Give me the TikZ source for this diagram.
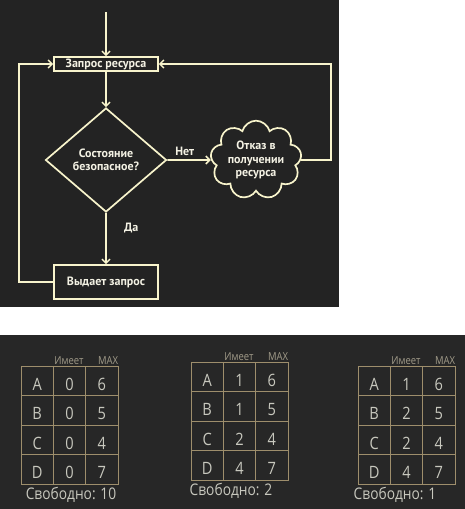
\documentclass[tikz,border=0pt]{standalone}
\usepackage{fontspec}
\setmainfont{PT Sans}
\newfontfamily\tabfont[FakeStretch=0.86]{Open Sans}
\usetikzlibrary{shapes.geometric,shapes.symbols,arrows.meta}

\definecolor{topbg}{HTML}{232323}
\definecolor{botbg}{HTML}{272727}
\definecolor{cream}{HTML}{F8F4CC}
\definecolor{flowtext}{HTML}{F4F2E4}
\definecolor{tan}{HTML}{9E8E6C}
\definecolor{celltext}{HTML}{C8C8BE}
\definecolor{headtext}{HTML}{A29C8A}

\tikzset{
    flow/.style = {cream, line width=1.7pt, -{Straight Barb[length=4pt,width=8pt,line width=1.5pt]}},
    procbox/.style = {draw=cream, line width=1.7pt, fill=topbg, text=flowtext, font=\bfseries\fontsize{12}{13}\selectfont, inner sep=0pt, minimum width=104pt},
    decision/.style = {diamond, draw=cream, line width=1.7pt, text=flowtext, font=\bfseries\fontsize{12}{13}\selectfont, align=center, inner sep=0pt, minimum width=121pt, minimum height=104pt},
    refusal/.style = {cloud, cloud puffs=9, aspect=1.3, draw=cream, line width=1.7pt, text=flowtext, font=\bfseries\fontsize{12}{13.5}\selectfont, align=center, inner sep=0pt, minimum width=91pt, minimum height=71pt},
    flowlabel/.style = {text=flowtext, font=\bfseries\fontsize{12}{13}\selectfont},
    cellgrid/.style = {tan, line width=0.9pt},
    cell/.style = {text=celltext, font=\tabfont\fontsize{17}{20}\selectfont, anchor=base, inner sep=0pt},
    head/.style = {text=headtext, font=\tabfont\fontsize{11}{13}\selectfont, anchor=base, inner sep=0pt},
    freetext/.style = {text=celltext, font=\tabfont\fontsize{16}{18}\selectfont, anchor=base, inner sep=0pt}
}

% one table of claims: name, top left corner, rows, x of free text, free text
\newcommand\claimtable[5]{%
    \begin{scope}[shift={#2}]
        \draw[cellgrid] (0,0) rectangle (97,118);
        \foreach \r in {1,2,3} \draw[cellgrid] (0,29.5*\r) -- (97,29.5*\r);
        \foreach \c in {1,2} \draw[cellgrid] (32.3*\c,0) -- (32.3*\c,118);
        \foreach \n/\h/\m [count=\r] in {#3} {
            \node[cell] (#1-\n) at (16.2,29.5*\r-5.5) {\n};
            \node[cell] (#1-\n-has) at (48.5,29.5*\r-5.5) {\h};
            \node[cell] (#1-\n-max) at (80.8,29.5*\r-5.5) {\m};
        }
        \node[head] (#1-hashead) at (48,-1.5) {Имеет};
        \node[head] (#1-maxhead) at (87,-1.5) {MAX};
        \node[freetext] (#1-free) at (#4,133) {#5};
    \end{scope}}

\begin{document}
\begin{tikzpicture}[x=1pt,y=-1pt]
    \useasboundingbox (0,0) rectangle (465,509);
    \fill[white] (0,0) rectangle (465,509);
    \fill[topbg] (0,0) rectangle (339,307);
    \fill[botbg] (0,335) rectangle (465,509);

    % flowchart
    \coordinate (entry) at (106,12);
    \node[procbox, minimum height=14pt] (req) at (106,64) {Запрос ресурса};
    \node[decision] (safe) at (106,160) {Состояние\\безопасное?};
    \node[refusal] (deny) at (256,160) {Отказ в\\получении\\ресурса};
    \node[procbox, minimum height=34pt] (give) at (106,282) {Выдает запрос};

    \draw[flow] (entry) -- (req);
    \draw[flow] (req) -- (safe);
    \draw[flow] (safe) -- node[flowlabel, above, pos=0.4] (no) {Нет} (deny);
    \draw[flow] (safe) -- node[flowlabel, right=14pt, pos=0.3] (yes) {Да} (give);
    \draw[flow] (deny.east) -- ++(30,0) |- (req.east);
    \draw[flow] (give.west) -- ++(-34,0) |- (req.west);

    % tables
    \claimtable{first}{(21,366)}{A/0/6,B/0/5,C/0/4,D/0/7}{50}{Свободно: 10}
    \claimtable{second}{(191,362)}{A/1/6,B/1/5,C/2/4,D/4/7}{40}{Свободно: 2}
    \claimtable{third}{(358,366)}{A/1/6,B/2/5,C/2/4,D/4/7}{37}{Свободно: 1}
\end{tikzpicture}
\end{document}
